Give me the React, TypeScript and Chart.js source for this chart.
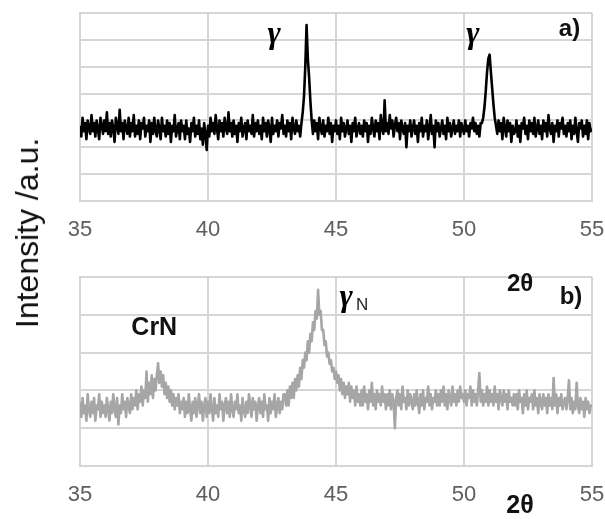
import React, { useEffect, useRef } from "react";
import { Chart, registerables } from "chart.js";

Chart.register(...registerables);

// 2θ scan grid
const TWO_THETA_START = 35;
const TWO_THETA_STEP = 0.05;
const xTickValues = [35, 40, 45, 50, 55];

// a) untreated: γ peaks at ~43.85 and ~51.0
const intensityA = [
  2.8,2.4,3.1,2.6,2.9,2.3,3.0,2.7,2.5,3.2,2.6,2.9,2.4,3.0,2.7,2.3,3.1,2.8,2.5,3.0,
  2.6,3.3,2.5,2.9,2.4,3.0,2.7,2.2,3.1,2.8,2.5,3.4,2.6,2.9,2.3,3.0,2.7,2.5,3.1,2.4,
  2.9,2.6,3.2,2.4,2.8,2.5,3.0,2.3,2.9,2.7,3.1,2.4,2.8,2.6,3.0,2.2,2.9,2.5,3.1,2.6,
  2.4,3.0,2.7,2.3,3.1,2.6,2.8,2.4,3.0,2.5,2.9,2.2,2.8,2.6,3.2,2.4,2.7,2.9,2.3,3.0,
  2.6,2.8,2.3,3.0,2.5,2.7,2.2,2.9,2.6,3.1,2.4,2.8,2.5,3.0,2.3,2.7,2.1,2.9,2.5,1.9,
  2.8,2.4,3.1,2.6,2.9,2.5,3.2,2.7,2.3,3.0,2.6,2.9,2.4,3.1,2.7,2.5,3.3,2.6,2.9,2.4,
  3.0,2.5,2.8,2.2,2.9,2.6,3.1,2.4,2.7,2.9,2.3,3.0,2.6,2.8,2.5,3.2,2.4,2.9,2.6,3.0,
  2.5,2.8,2.3,3.1,2.6,2.9,2.4,3.0,2.7,2.2,3.1,2.5,2.8,2.6,3.0,2.4,2.9,2.7,3.2,2.5,
  2.8,2.4,3.0,2.6,2.9,2.3,3.1,2.7,2.5,3.0,2.6,2.8,2.4,2.9,3.3,3.9,5.0,6.55,5.3,4.6,
  3.7,3.0,2.5,3.0,2.6,2.9,2.3,3.1,2.7,2.5,3.0,2.4,2.8,2.6,3.1,2.5,2.9,2.2,2.8,2.6,
  3.0,2.5,2.8,2.3,3.1,2.6,2.9,2.4,2.7,3.0,2.5,2.8,2.2,2.9,2.6,3.1,2.4,2.7,2.9,2.5,
  2.8,2.4,3.0,2.6,2.9,2.2,2.8,2.5,3.1,2.7,2.4,3.0,2.6,2.9,2.3,3.2,2.7,2.5,3.75,2.6,
  2.9,2.5,3.2,2.7,3.0,2.4,2.8,3.1,2.6,2.9,2.3,3.0,2.7,2.5,2.9,2.0,2.8,2.6,3.0,2.4,
  2.7,3.0,2.5,2.8,2.2,2.9,2.6,3.1,2.4,2.8,2.6,3.0,2.3,2.7,3.2,2.5,2.8,2.0,3.0,2.6,
  2.9,2.4,2.7,3.0,2.5,2.8,2.3,3.1,2.6,2.9,2.4,2.7,3.0,2.5,2.8,2.6,3.0,2.4,2.9,2.7,
  2.5,3.0,2.6,2.8,2.4,2.9,2.7,3.1,2.6,2.9,2.5,2.8,2.4,2.9,2.9,3.1,3.5,4.1,4.8,5.3,
  5.45,4.8,4.2,3.6,3.1,2.8,2.5,3.0,2.6,2.9,2.3,3.1,2.7,2.4,3.0,2.6,2.9,2.2,2.8,2.5,
  2.6,3.0,2.4,2.8,2.2,2.9,2.7,3.1,2.5,2.8,2.3,3.0,2.6,2.9,2.5,3.1,2.4,2.7,3.0,2.5,
  2.8,2.3,3.0,2.6,2.9,2.4,3.2,2.7,2.5,2.9,2.2,2.8,2.6,3.0,2.4,2.9,2.7,3.1,2.5,2.8,
  2.4,2.9,2.6,3.0,2.3,2.8,2.5,3.1,2.6,2.2,2.9,2.7,3.0,2.4,2.8,2.5,3.0,2.3,2.9,2.6,
  2.7,
];

// b) nitrided: CrN at ~38.0, expanded austenite γN at ~44.3
const intensityB = [
  1.7,1.3,1.8,1.4,1.6,1.2,1.9,1.5,1.3,1.7,1.4,1.8,1.2,1.6,1.5,1.9,1.3,1.7,1.4,1.6,
  1.3,1.8,1.5,1.2,1.7,1.4,1.9,1.5,1.3,1.8,1.1,1.6,1.4,1.9,1.5,1.7,1.3,1.8,1.6,1.4,
  1.9,1.5,1.8,1.6,2.0,1.5,1.9,1.7,2.1,1.6,2.0,1.8,2.5,1.7,2.2,1.9,2.4,1.8,2.3,2.0,
  2.4,2.72,2.2,2.5,2.1,2.4,1.9,2.2,1.8,2.1,1.7,2.0,1.6,1.9,1.5,1.8,1.6,1.9,1.4,1.7,
  1.5,1.8,1.3,1.7,1.4,1.9,1.5,1.2,1.7,1.4,1.8,1.3,1.6,1.9,1.4,1.7,1.2,1.6,1.8,1.3,
  1.7,1.4,1.9,1.5,1.2,1.8,1.4,1.6,1.3,1.9,1.5,1.7,1.2,1.6,1.8,1.4,1.7,1.3,1.9,1.5,
  1.3,1.7,1.5,1.9,1.4,1.6,1.2,1.8,1.5,1.3,1.7,1.4,1.9,1.6,1.3,1.8,1.5,1.7,1.2,1.6,
  1.8,1.4,1.7,1.3,1.9,1.5,1.6,1.2,1.8,1.4,1.7,1.5,1.9,1.3,1.6,1.8,1.4,1.7,1.5,1.9,
  1.9,1.6,2.0,1.6,2.1,1.8,2.2,1.8,2.3,2.0,2.4,2.1,2.6,2.3,2.8,2.6,3.0,2.8,3.3,3.0,
  3.5,3.3,3.8,3.6,4.1,3.9,4.66,4.0,4.1,3.6,3.6,3.2,3.3,2.9,3.0,2.7,2.8,2.5,2.6,2.3,
  2.5,2.2,2.4,2.0,2.3,1.9,2.2,1.8,2.1,1.9,2.2,1.7,2.1,1.8,2.0,1.6,2.1,1.7,1.9,1.6,
  2.0,1.6,2.1,1.7,1.9,1.5,2.0,1.7,2.2,1.6,1.9,1.5,2.0,1.7,1.9,1.6,2.1,1.7,1.9,1.5,
  1.9,1.6,2.0,1.5,1.9,1.7,1.0,1.8,2.0,1.6,1.9,1.5,2.1,1.7,1.8,1.5,2.0,1.6,1.9,1.7,
  1.5,1.9,1.6,2.0,1.7,1.4,1.9,1.6,2.0,1.5,1.8,1.7,2.1,1.6,1.9,1.5,1.8,1.7,2.0,1.6,
  1.9,1.6,2.0,1.7,2.1,1.6,1.9,1.5,2.0,1.8,1.6,2.1,1.7,1.9,1.6,2.0,1.7,2.1,1.8,1.9,
  1.7,2.0,1.6,1.9,1.8,2.1,1.6,2.0,1.7,1.9,1.6,2.0,2.46,1.7,2.0,1.6,1.9,1.7,2.1,1.6,
  2.0,1.7,1.9,1.6,2.1,1.7,1.9,1.5,2.0,1.8,1.6,2.0,1.7,1.9,1.5,2.0,1.7,1.8,1.6,1.9,
  1.6,1.9,1.5,2.0,1.7,1.8,1.4,1.9,1.6,2.0,1.5,1.8,1.7,1.9,1.5,2.0,1.6,1.8,1.4,1.9,
  1.7,1.5,1.9,1.6,1.8,1.4,1.9,1.6,1.8,1.5,2.33,1.6,1.9,1.4,1.8,1.6,1.9,1.5,1.7,1.8,
  1.5,1.8,2.27,1.5,1.8,1.4,1.7,1.5,2.2,1.6,1.4,1.8,1.5,1.7,1.3,1.8,1.5,1.7,1.4,1.6,
  1.6,
];

const toPoints = (vals: number[]) =>
  vals.map((v, i) => ({ x: +(TWO_THETA_START + i * TWO_THETA_STEP).toFixed(2), y: v }));

type TextItem = { text: string; x: number; y: number; font: string; color: string };

const textPlugin = {
  id: "panelText",
  afterDraw(chart: any, _args: any, opts: any) {
    const { ctx } = chart;
    const xs = chart.scales.x;
    const ys = chart.scales.y;
    (opts.items || []).forEach((it: TextItem) => {
      ctx.save();
      ctx.font = it.font;
      ctx.fillStyle = it.color;
      ctx.textAlign = "center";
      ctx.textBaseline = "middle";
      ctx.fillText(it.text, xs.getPixelForValue(it.x), ys.getPixelForValue(it.y));
      ctx.restore();
    });
  },
};

const GRID = "#d6d6d6";
const SANS = "'Liberation Sans', Arial, sans-serif";
const SERIF = "'Liberation Serif', 'Times New Roman', serif";

function makeConfig(
  values: number[],
  color: string,
  yMax: number,
  pad: { top: number },
  axisHeight: number,
  items: TextItem[]
): any {
  return {
    type: "line",
    data: {
      datasets: [
        {
          data: toPoints(values),
          borderColor: color,
          borderWidth: 2.6,
          borderJoinStyle: "round",
          pointRadius: 0,
          tension: 0,
          fill: false,
        },
      ],
    },
    options: {
      responsive: false,
      animation: false,
      layout: { padding: { left: 80, right: 13, top: pad.top, bottom: 0 } },
      plugins: {
        legend: { display: false },
        tooltip: { enabled: false },
        panelText: { items },
      },
      scales: {
        x: {
          type: "linear",
          min: 35,
          max: 55,
          afterBuildTicks: (s: any) => {
            s.ticks = xTickValues.map((v) => ({ value: v }));
          },
          afterFit: (s: any) => {
            s.height = axisHeight;
            s.paddingLeft = 0;
            s.paddingRight = 0;
          },
          grid: { color: GRID, lineWidth: 2, drawTicks: false },
          border: { color: GRID, width: 2 },
          ticks: {
            padding: 16,
            color: "#5e5e5e",
            font: { family: SANS, size: 22 },
            maxRotation: 0,
            callback: (v: any) => String(v),
          },
        },
        y: {
          min: 0,
          max: yMax,
          afterFit: (s: any) => {
            s.width = 0;
            s.paddingTop = 0;
            s.paddingBottom = 0;
          },
          ticks: { display: false, stepSize: 1 },
          grid: { color: GRID, lineWidth: 2, drawTicks: false },
          border: { color: GRID, width: 2 },
        },
      },
    },
    plugins: [textPlugin],
  };
}

const labelsA: TextItem[] = [
  { text: "γ", x: 42.58, y: 6.2, font: `bold italic 32px ${SERIF}`, color: "#000" },
  { text: "γ", x: 50.35, y: 6.2, font: `bold italic 32px ${SERIF}`, color: "#000" },
  { text: "a)", x: 54.12, y: 6.4, font: `bold 24px ${SANS}`, color: "#111" },
];

const labelsB: TextItem[] = [
  { text: "CrN", x: 37.9, y: 3.65, font: `bold 25px ${SANS}`, color: "#111" },
  { text: "γ", x: 45.4, y: 4.45, font: `bold italic 32px ${SERIF}`, color: "#000" },
  { text: "N", x: 46.02, y: 4.26, font: `17px ${SANS}`, color: "#222" },
  { text: "2θ", x: 52.19, y: 4.8, font: `bold 24px ${SANS}`, color: "#111" },
  { text: "b)", x: 54.18, y: 4.47, font: `bold 24px ${SANS}`, color: "#111" },
  { text: "2θ", x: 52.19, y: -1.07, font: `bold 25px ${SANS}`, color: "#111" },
];

export default function App() {
  const refA = useRef<HTMLCanvasElement>(null);
  const refB = useRef<HTMLCanvasElement>(null);

  useEffect(() => {
    const a = new Chart(refA.current as HTMLCanvasElement, makeConfig(intensityA, "#000000", 7, { top: 13 }, 49, labelsA));
    const b = new Chart(refB.current as HTMLCanvasElement, makeConfig(intensityB, "#a6a6a6", 5, { top: 22 }, 53, labelsB));
    return () => {
      a.destroy();
      b.destroy();
    };
  }, []);

  return (
    <div style={{ position: "fixed", left: 0, top: 0, width: 605, height: 519, background: "#fff" }}>
      <canvas ref={refA} width={605} height={250} style={{ position: "absolute", left: 0, top: 0 }} />
      <canvas ref={refB} width={605} height={264} style={{ position: "absolute", left: 0, top: 255 }} />
      <div
        style={{
          position: "absolute",
          left: 27,
          top: 233,
          transform: "translate(-50%, -50%) rotate(-90deg)",
          whiteSpace: "nowrap",
          fontFamily: SANS,
          fontSize: 32,
          color: "#111",
          lineHeight: 1,
        }}
      >
        Intensity /a.u.
      </div>
    </div>
  );
}
